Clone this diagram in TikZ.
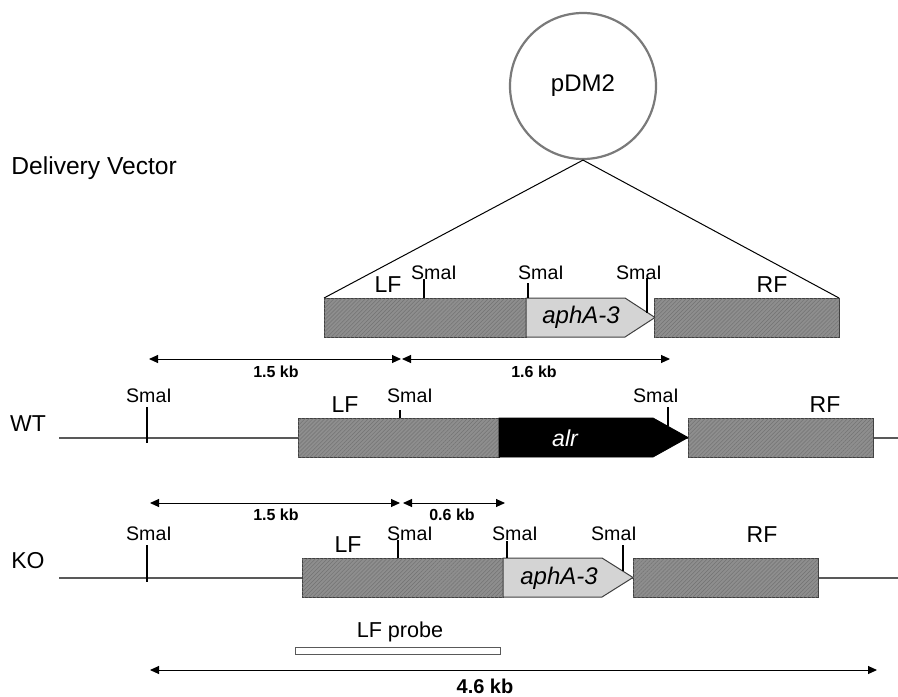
\documentclass[tikz,border=0pt]{standalone}
\usepackage{fontspec}
\setmainfont{Liberation Sans}
\usetikzlibrary{arrows.meta,patterns.meta}
\definecolor{flankgray}{HTML}{8E8E8E}
\definecolor{markergray}{HTML}{D4D4D4}
\definecolor{ringgray}{HTML}{7A7A7A}

\begin{document}
\begin{tikzpicture}[x=0.5pt, y=-0.5pt, every node/.style={inner sep=0pt},
  flank/.style={draw=black!75, line width=0.5pt, fill=flankgray,
    postaction={pattern={Lines[angle=45,distance=1.4pt,line width=0.25pt]}, pattern color=black!55}},
  marker/.style={draw=black!75, line width=0.5pt, fill=markergray},
  backbone/.style={draw=black!65, line width=0.6pt},
  cutsite/.style={line width=1.1pt},
  site/.style={font=\fontsize{9.8}{11}\selectfont},
  region/.style={font=\fontsize{11.5}{13}\selectfont},
  genename/.style={font=\fontsize{12}{14}\selectfont\itshape},
  dimtext/.style={font=\fontsize{8}{9}\selectfont\bfseries},
  dimline/.style={{Triangle[length=4.5pt,width=4pt]}-{Triangle[length=4.5pt,width=4pt]}, line width=0.5pt}]
  \useasboundingbox (0,0) rectangle (898,696);

  % delivery vector
  \node[anchor=west, font=\fontsize{12.3}{14}\selectfont] (dvlabel) at (11,168) {Delivery Vector};
  \node[circle, draw=ringgray, line width=1.1pt, minimum size=73pt, font=\fontsize{12}{14}\selectfont] (pdm) at (583,86) {pDM2};
  \coordinate (vleft) at (324,298);
  \coordinate (vright) at (839,298);
  \draw[line width=0.5pt] (vleft) -- (pdm.south) -- (vright);
  \draw[flank] (vleft) rectangle (526,337);
  \draw[marker] (526,298) -- (625,298) -- (655,317.5) -- (625,337) -- (526,337) -- cycle;
  \draw[flank] (654,298) rectangle (vright |- 0,337);
  \draw[cutsite] (424,279) -- (424,298);
  \draw[cutsite] (528,283) -- (528,298);
  \draw[cutsite] (647,278) -- (647,313);
  \node[site] (vs1) at (434,273) {SmaI};
  \node[site] (vs2) at (541,273) {SmaI};
  \node[site] (vs3) at (639,273) {SmaI};
  \node[region] (vlf) at (388,285) {LF};
  \node[region] (vrf) at (772,285) {RF};
  \node[genename] (vaph) at (581,317) {aphA-3};

  % wild type
  \coordinate (wa) at (149,359);
  \coordinate (wb) at (401,359);
  \coordinate (wc) at (402,359);
  \coordinate (wd) at (670,359);
  \draw[dimline] (wa) -- (wb);
  \draw[dimline] (wc) -- (wd);
  \node[dimtext] (wd1) at (276,372) {1.5 kb};
  \node[dimtext] (wd2) at (534,372) {1.6 kb};
  \node[region] (wtlabel) at (28,424) {WT};
  \draw[backbone] (59,438) -- (898,438);
  \draw[flank] (298,418) rectangle (499,457);
  \draw[fill=black, draw=black] (499,418) -- (653,418) -- (688,437.5) -- (653,457) -- (499,457) -- cycle;
  \draw[flank] (688,418) rectangle (873,457);
  \draw[cutsite] (147,407) -- (147,443);
  \draw[cutsite] (400,410) -- (400,418);
  \draw[cutsite] (668,407) -- (668,426);
  \node[site] (ws1) at (149,396) {SmaI};
  \node[site] (ws2) at (410,396) {SmaI};
  \node[site] (ws3) at (656,396) {SmaI};
  \node[region] (wlf) at (345,405) {LF};
  \node[region] (wrf) at (825,405) {RF};
  \node[region, text=white, font=\fontsize{11.5}{13}\selectfont\itshape] (walr) at (565,438) {alr};

  % knock-out
  \coordinate (ka) at (150,503);
  \coordinate (kb) at (400,503);
  \coordinate (kc) at (403,503);
  \coordinate (kd) at (505,503);
  \draw[dimline] (ka) -- (kb);
  \draw[dimline] (kc) -- (kd);
  \node[dimtext] (kd1) at (276,515) {1.5 kb};
  \node[dimtext] (kd2) at (452,515) {0.6 kb};
  \node[region] (kolabel) at (28,561) {KO};
  \draw[backbone] (59,578) -- (898,578);
  \draw[flank] (302,558) rectangle (503,597);
  \draw[marker] (503,558) -- (602,558) -- (633,577.5) -- (602,597) -- (503,597) -- cycle;
  \draw[flank] (633,558) rectangle (818,597);
  \draw[cutsite] (147,545) -- (147,582);
  \draw[cutsite] (398,540) -- (398,558);
  \draw[cutsite] (507,541) -- (507,558);
  \draw[cutsite] (623,545) -- (623,571);
  \node[site] (ks1) at (149,534) {SmaI};
  \node[site] (ks2) at (410,534) {SmaI};
  \node[site] (ks3) at (515,534) {SmaI};
  \node[site] (ks4) at (614,534) {SmaI};
  \node[region] (klf) at (348,545) {LF};
  \node[region] (krf) at (762,535) {RF};
  \node[genename] (kaph) at (559,578) {aphA-3};

  % probe and fragment
  \node[font=\fontsize{10.8}{12}\selectfont] (probelabel) at (400,632) {LF probe};
  \draw[draw=black!65, line width=0.5pt, fill=white] (295,647) rectangle (500,654);
  \coordinate (fa) at (150,670);
  \coordinate (fb) at (877,670);
  \draw[dimline] (fa) -- (fb);
  \node[font=\fontsize{10}{12}\selectfont\bfseries] (fraglabel) at (485,686) {4.6 kb};
\end{tikzpicture}
\end{document}
